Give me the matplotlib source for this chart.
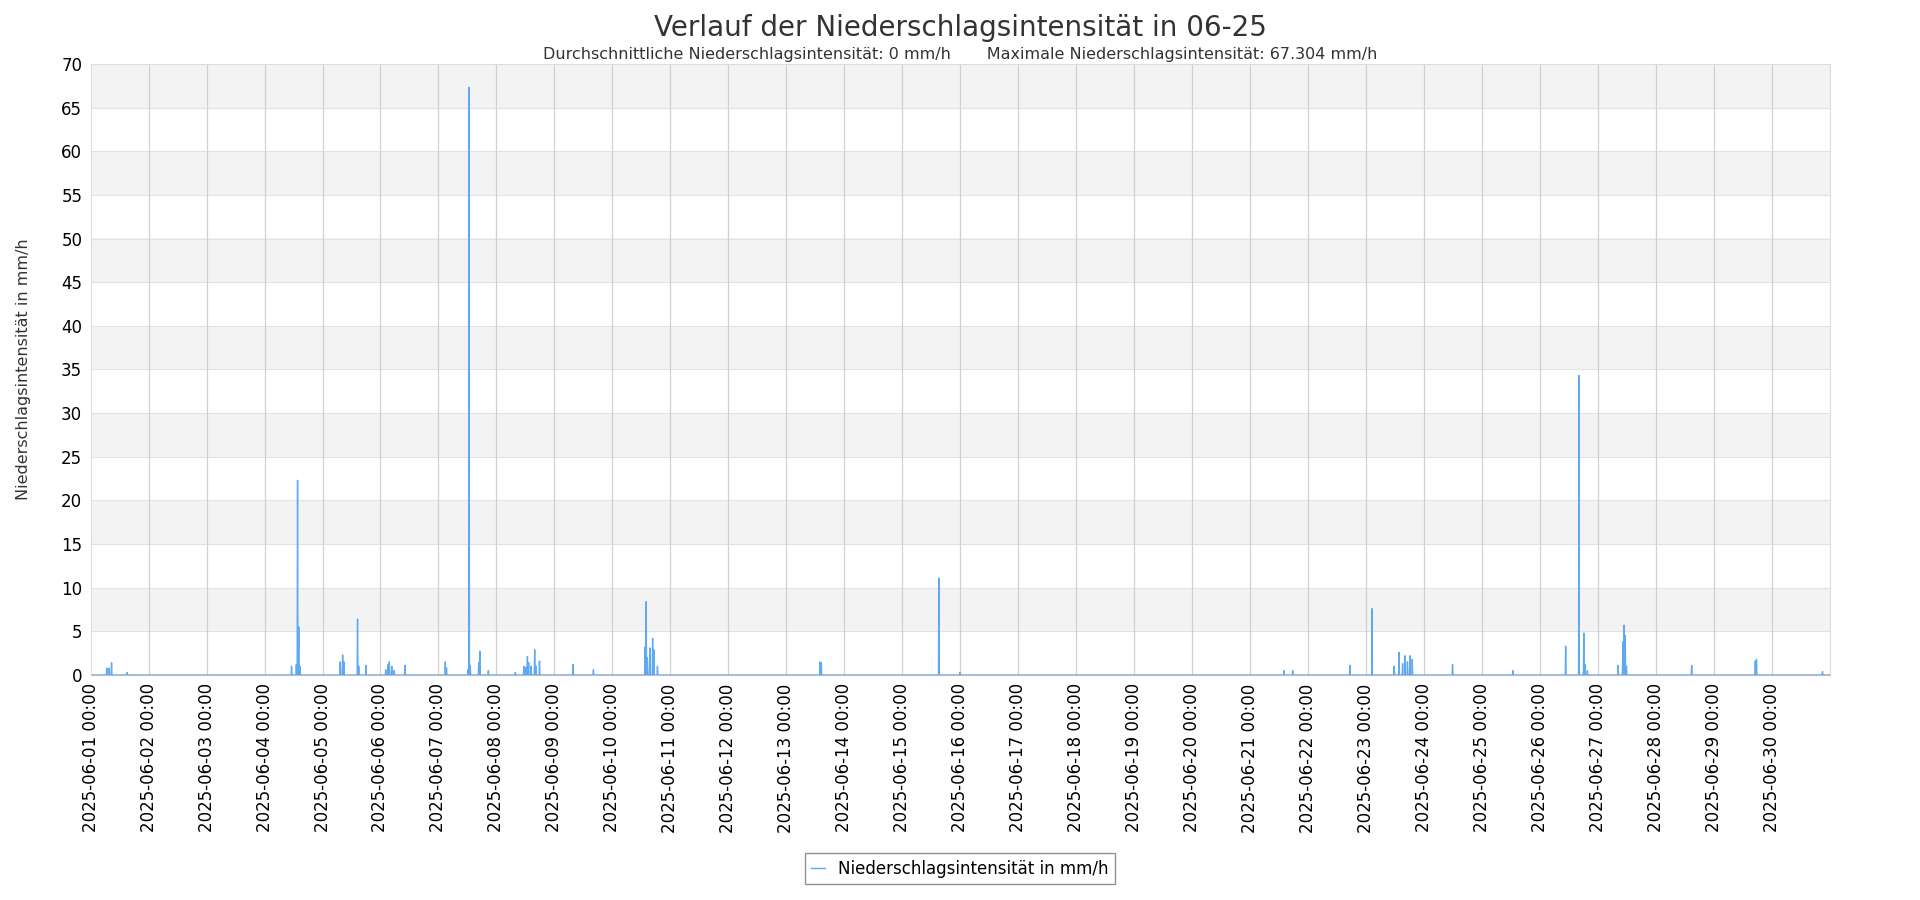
import numpy as np
import pandas as pd
import matplotlib
matplotlib.use("Agg")
import matplotlib.pyplot as plt
import matplotlib.dates as mdates

# rain events: hours after 2025-06-01 00:00 and intensity in mm/h
event_hours = [6.6, 7.6, 8.6, 15.2,
               83.1, 85.1, 85.6, 86.1, 86.6,
               103.4, 104.4, 104.9, 110.5, 111.0, 114.0,
               122.1, 123.1, 123.6, 124.6, 125.7, 130.2,
               146.9, 147.4,
               156.1, 156.6, 157.1, 160.6, 161.1, 164.7,
               175.8, 179.4, 180.4, 180.9, 181.4, 182.4, 183.9, 184.4, 185.9,
               199.6, 208.2,
               229.5, 230.0, 230.5, 231.5, 232.6, 233.1, 234.6,
               302.0, 302.5,
               351.1, 359.8,
               494.0, 497.6, 521.4, 530.5,
               539.6, 541.6, 543.2, 544.2, 545.2, 546.2, 547.2,
               563.9, 588.8, 610.6, 616.2, 618.2, 618.7, 619.7,
               632.4, 634.4, 634.9, 635.4, 635.9,
               662.8, 689.1, 689.6, 717.0]
event_values = [0.8, 0.8, 1.4, 0.3,
                1.0, 1.2, 22.3, 5.5, 1.0,
                1.5, 2.3, 1.5, 6.4, 1.0, 1.1,
                0.6, 1.2, 1.5, 1.0, 0.5, 1.1,
                1.5, 0.8,
                0.6, 67.304, 1.1, 1.4, 2.7, 0.5,
                0.3, 1.0, 0.9, 2.1, 1.4, 1.0, 2.9, 1.0, 1.6,
                1.2, 0.6,
                3.2, 8.4, 2.0, 3.1, 4.2, 2.9, 1.0,
                1.5, 1.4,
                11.1, 0.3,
                0.5, 0.5, 1.1, 7.6,
                1.0, 2.6, 1.3, 2.2, 1.5, 2.2, 1.8,
                1.2, 0.5, 3.3, 34.3, 4.8, 1.2, 0.5,
                1.1, 3.8, 5.7, 4.5, 1.0,
                1.1, 1.6, 1.8, 0.4]

start = pd.Timestamp("2025-06-01 00:00")
times = pd.date_range(start, "2025-06-30 23:50", freq="10min")
values = np.zeros(len(times))
for h, v in zip(event_hours, event_values):
    i = int(round(h * 6))
    values[i] = max(values[i], v)

day_ticks = pd.date_range("2025-06-01", "2025-06-30", freq="D")
line_color = "#5fa8f2"

plt.rcParams["font.family"] = "DejaVu Sans"
fig = plt.figure(figsize=(19.2, 9), dpi=100)
ax = fig.add_axes([0.0472, 0.25, 0.9058, 0.679])

for lo in range(5, 70, 10):
    ax.axhspan(lo, lo + 5, color="#f3f3f3", zorder=0, lw=0)
for y in range(5, 70, 5):
    ax.axhline(y, color="#e2e2e2", lw=0.8, zorder=0.5)
for d in day_ticks[1:]:
    ax.axvline(d, color="#d0d0d0", lw=0.9, zorder=0.6)

ax.plot(times, values, color=line_color, lw=1, label="Niederschlagsintensität in mm/h", zorder=2)

ax.set_xlim(start, pd.Timestamp("2025-07-01 00:00"))
ax.set_ylim(0, 70)
ax.set_yticks(range(0, 71, 5))
ax.set_xticks(day_ticks)
ax.xaxis.set_major_formatter(mdates.DateFormatter("%Y-%m-%d %H:%M"))
plt.setp(ax.get_xticklabels(), rotation=90, fontsize=12)
plt.setp(ax.get_yticklabels(), fontsize=12)
ax.tick_params(length=0, pad=6)
for s in ["top", "right", "left"]:
    ax.spines[s].set_color("#dddddd")
ax.spines["bottom"].set_color("#bbbbbb")

ax.set_ylabel("Niederschlagsintensität in mm/h", fontsize=11.5, color="#333333", labelpad=22)

fig.text(0.5, 0.984, "Verlauf der Niederschlagsintensität in 06-25", ha="center", va="top",
         fontsize=20, color="#333333")
fig.text(0.5, 0.948, "Durchschnittliche Niederschlagsintensität: 0 mm/h       Maximale Niederschlagsintensität: 67.304 mm/h",
         ha="center", va="top", fontsize=11.5, color="#333333")

leg = fig.legend(loc="center", bbox_to_anchor=(0.5, 0.035), fontsize=12, frameon=True,
                 fancybox=False, handlelength=0.8, edgecolor="#777777")
leg.get_frame().set_linewidth(1)

fig.savefig("out.png", dpi=100)
